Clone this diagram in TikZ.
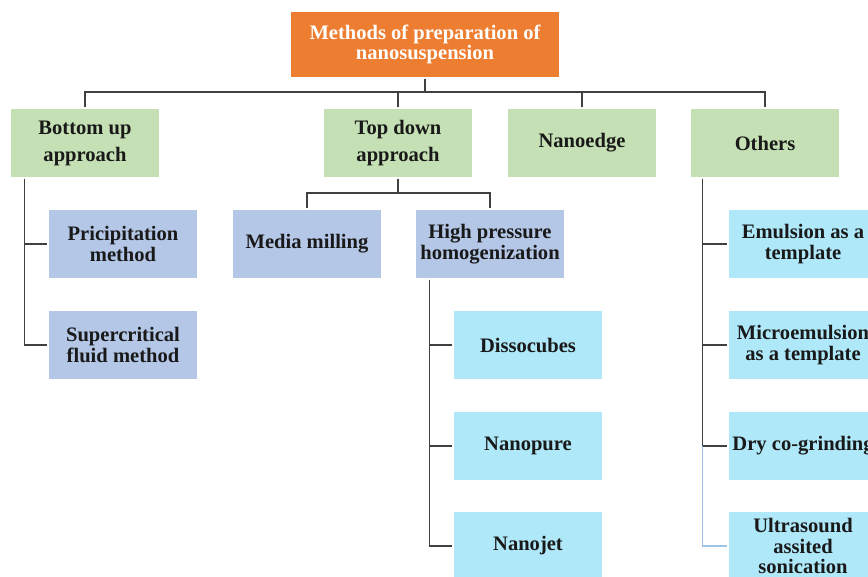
\documentclass[tikz,border=0pt]{standalone}
\usepackage{fontspec}
\setmainfont{Liberation Serif}
\usetikzlibrary{positioning}
\definecolor{cOrange}{HTML}{ED7D31}
\definecolor{cGreen}{HTML}{C5E0B4}
\definecolor{cBlue}{HTML}{B4C7E7}
\definecolor{cCyan}{HTML}{AEE8F9}
\definecolor{cLine}{HTML}{404040}
\definecolor{cFaint}{HTML}{9DC3E6}

\begin{document}
\begin{tikzpicture}[
   font=\bfseries\fontsize{11.7}{11.6}\selectfont,
   box/.style={draw=white, line width=0.6pt, inner sep=0pt, align=center,
               minimum width=3cm, minimum height=1.4cm, text=black!90},
   head/.style={box, fill=cOrange, text=white, minimum width=5.4cm, minimum height=1.34cm},
   appr/.style={box, fill=cGreen, font=\bfseries\fontsize{11.7}{15.4}\selectfont},
   meth/.style={box, fill=cBlue},
   tech/.style={box, fill=cCyan},
   tree/.style={draw=cLine, line width=1pt},
   treelt/.style={draw=cFaint, line width=0.6pt}]
  \useasboundingbox (0,0) rectangle (17.36,-11.52);
  \clip (0,0) rectangle (17.36,-11.52);
  % top level
  \node[head] (root) at (8.5,-0.89)  {Methods of preparation of\\ nanosuspension};
  \node[appr] (bot)  at (1.7,-2.86)  {Bottom up\\ approach};
  \node[appr] (top)  at (7.96,-2.86) {Top down\\ approach};
  \node[appr] (edge) at (11.64,-2.86) {Nanoedge};
  \node[appr] (oth)  at (15.3,-2.86) {Others};
  \coordinate (bus)   at (0,-1.84);
  \coordinate (tdbus) at (0,-3.86);
  % second level
  \node[meth] (pric)  at (2.46,-4.88) {Pricipitation\\ method};
  \node[meth] (super) at (2.46,-6.9)  {Supercritical\\ fluid method};
  \node[meth] (media) at (6.14,-4.88) {Media milling};
  \node[meth] (hp)    at (9.8,-4.88)  {High pressure\\ homogenization};
  \node[tech] (disso) at (10.56,-6.9)  {Dissocubes};
  \node[tech] (pure)  at (10.56,-8.92) {Nanopure};
  \node[tech] (jet)   at (10.56,-10.92) {Nanojet};
  \node[tech] (emul)  at (16.06,-4.88) {Emulsion as a\\ template};
  \node[tech] (micro) at (16.06,-6.9)  {Microemulsion\\ as a template};
  \node[tech] (dry)   at (16.06,-8.92) {Dry co-grinding};
  \node[tech] (ultra) at (16.06,-10.92) {Ultrasound\\ assited\\ sonication};
  \coordinate (bottrunk) at ([xshift=0.3cm]bot.south west);
  \coordinate (hptrunk)  at ([xshift=0.3cm]hp.south west);
  \coordinate (othtrunk) at ([xshift=0.26cm]oth.south west);
  % connectors
  \draw[tree] (root.south) -- (root.south |- bus);
  \draw[tree] (bot.north) -- (bot.north |- bus) -- (oth.north |- bus) -- (oth.north);
  \draw[tree] (top.north) -- (top.north |- bus);
  \draw[tree] (edge.north) -- (edge.north |- bus);
  \draw[tree] (bottrunk) |- (pric.west);
  \draw[tree] (bottrunk) |- (super.west);
  \draw[tree] (top.south) -- (top.south |- tdbus);
  \draw[tree] (media.north) -- (media.north |- tdbus) -- (hp.north |- tdbus) -- (hp.north);
  \draw[tree] (hptrunk) |- (disso.west);
  \draw[tree] (hptrunk) |- (pure.west);
  \draw[tree] (hptrunk) |- (jet.west);
  \draw[tree] (othtrunk) |- (emul.west);
  \draw[tree] (othtrunk) |- (micro.west);
  \draw[tree] (othtrunk) |- (dry.west);
  \draw[treelt] (othtrunk |- dry.west) |- (ultra.west);
\end{tikzpicture}
\end{document}
